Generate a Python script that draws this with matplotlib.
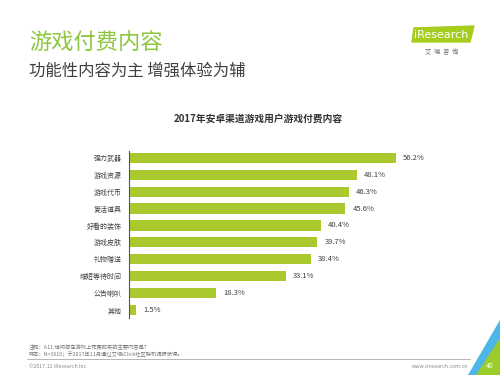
import matplotlib.pyplot as plt
from matplotlib.patches import Polygon

plt.rcParams['font.family'] = ['Noto Sans CJK SC', 'DejaVu Sans']

categories = ['强力武器', '游戏资源', '游戏代币', '复活道具', '好看的装饰',
              '游戏皮肤', '礼物赠送', '缩短等待时间', '公告喇叭', '其他']
values = [56.2, 48.1, 46.3, 45.6, 40.4, 39.7, 38.4, 33.1, 18.3, 1.5]

bar_color = '#a9c92f'
green = '#8dc63f'

fig = plt.figure(figsize=(5, 3.75), dpi=100)
W, H = 500, 375


def fx(px):
    return px / W


def fy(py):
    return 1 - py / H


# header
fig.text(fx(29), fy(42), '游戏付费内容', color=green, fontsize=16, va='center')
fig.text(fx(29), fy(71), '功能性内容为主 增强体验为辅', color='#404040', fontsize=11.8, va='center')

# logo
fig.patches.append(Polygon([(fx(412), fy(42)), (fx(414), fy(28)), (fx(474), fy(26)), (fx(470), fy(42))],
                           closed=True, transform=fig.transFigure, color='#a6cc1e', zorder=1))
fig.text(fx(414), fy(35), 'iResearch', color='white', fontsize=8, va='center', zorder=2,
         family='DejaVu Sans')
fig.text(fx(442), fy(52), '艾  瑞  咨  询', color='#666666', fontsize=4.5, va='center', ha='center')

# chart title
fig.text(fx(258), fy(119), '2017年安卓渠道游戏用户游戏付费内容', color='#333333', fontsize=7,
         fontweight='bold', ha='center', va='center')

ax = fig.add_axes([fx(129), fy(318), fx(461) - fx(129), (318 - 151) / H])
ypos = list(range(len(categories)))
bars = ax.barh(ypos, values, height=0.6, color=bar_color)
ax.set_xlim(0, 70)
ax.set_ylim(9.47, -0.4)
ax.set_yticks(ypos)
ax.set_yticklabels(categories, fontsize=5, color='#404040')
ax.tick_params(axis='y', length=0, pad=5)
ax.set_xticks([])
for s in ['top', 'right', 'bottom']:
    ax.spines[s].set_visible(False)
ax.spines['left'].set_color('#555555')
ax.spines['left'].set_linewidth(0.8)
for b, v in zip(bars, values):
    ax.text(v + 1.5, b.get_y() + b.get_height() / 2, f'{v}%', fontsize=5.5,
            color='#404040', va='center')

# footer
fig.text(fx(29), fy(347), '注释：A11.请问您在游戏上花费购买的主要内容是？', fontsize=3.8, color='#777777', va='center')
fig.text(fx(29), fy(354), '样本：N=1610；于2017年11月通过艾瑞iClick社区联机调研获得。', fontsize=3.8, color='#777777', va='center')
fig.add_artist(plt.Line2D([fx(27), fx(470)], [fy(358.5), fy(358.5)], color='#aaaaaa', lw=0.6))
fig.text(fx(29), fy(366), '©2017.12 iResearch Inc', fontsize=3.8, color='#888888', va='center')
fig.text(fx(468), fy(366), 'www.iresearch.com.cn', fontsize=3.8, color='#888888', va='center', ha='right')

# corner
fig.patches.append(Polygon([(fx(500), fy(320)), (fx(500), fy(375)), (fx(468), fy(375))],
                           closed=True, transform=fig.transFigure, color='#4db6e8', zorder=1))
fig.patches.append(Polygon([(fx(500), fy(338)), (fx(500), fy(375)), (fx(476), fy(375))],
                           closed=True, transform=fig.transFigure, color='#9ccc2a', zorder=1))
fig.text(fx(490), fy(366), '40', fontsize=5, color='white', va='center', ha='center', zorder=3)

fig.savefig('out.png', dpi=100)
